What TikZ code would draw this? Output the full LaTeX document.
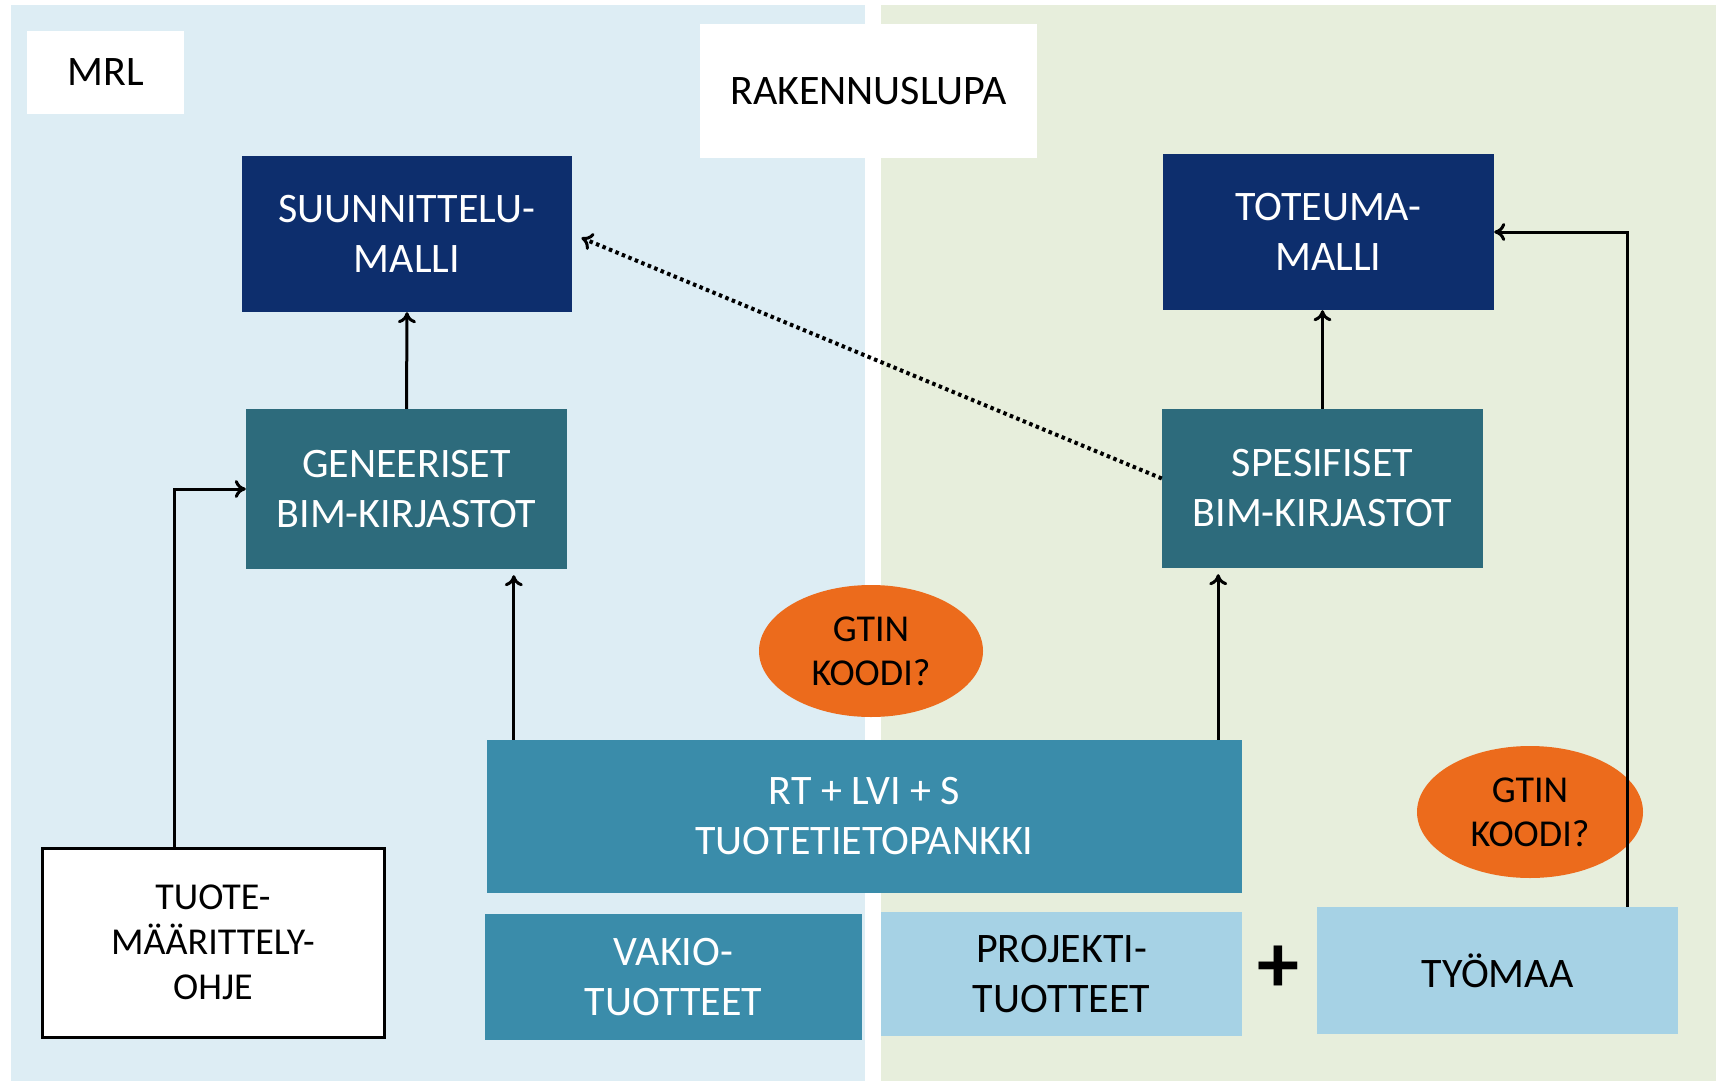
\documentclass[tikz,border=0pt]{standalone}
\usepackage{fontspec}
\setmainfont{Carlito}
\usetikzlibrary{arrows.meta,shapes.geometric,calc}
\definecolor{navybox}{HTML}{0D2E6D}
\definecolor{tealbox}{HTML}{2D6B7C}
\definecolor{midbox}{HTML}{3A8CAA}
\definecolor{lightbox}{HTML}{A6D2E5}
\definecolor{bgblue}{HTML}{DDEDF4}
\definecolor{bggreen}{HTML}{E7EEDC}
\definecolor{orangeov}{HTML}{EC6B1C}
\tikzset{
  base/.style={rectangle, inner sep=0pt, align=center, font=\fontsize{42}{50}\selectfont},
  whitelabel/.style={base, fill=white, text=black, font=\fontsize{42}{48}\selectfont},
  navy/.style={base, fill=navybox, text=white},
  tealb/.style={base, fill=tealbox, text=white},
  midb/.style={base, fill=midbox, text=white},
  lightb/.style={base, fill=lightbox, text=black},
  outlined/.style={base, fill=white, draw=black, line width=3pt, text=black, font=\fontsize{38}{45}\selectfont},
  gtin/.style={ellipse, fill=orangeov, inner sep=0pt, align=center, text=black, font=\fontsize{38}{44}\selectfont},
  conn/.style={draw=black, line width=3pt, -{To[length=11pt,width=18pt,line width=3pt]}},
  dotconn/.style={draw=black, line width=4pt, dash pattern=on 3.5pt off 3.5pt, -{To[length=11pt,width=18pt,line width=3pt]}}
}
\begin{document}
\begin{tikzpicture}[x=1pt,y=-1pt]
\useasboundingbox (0,0) rectangle (1716,1081);
\fill[bgblue] (11,5) rectangle (865,1081);
\fill[bggreen] (881,5) rectangle (1716,1081);

\node[whitelabel, minimum width=157pt, minimum height=83pt] (mrl) at (105.5,72.5) {MRL};
\node[whitelabel, minimum width=337pt, minimum height=134pt] (lupa) at (868.5,91) {RAKENNUSLUPA};

\node[navy, minimum width=330pt, minimum height=156pt] (suun) at (407,234) {SUUNNITTELU-\\MALLI};
\node[navy, minimum width=331pt, minimum height=156pt] (tot) at (1328.5,232) {TOTEUMA-\\MALLI};
\node[tealb, minimum width=321pt, minimum height=160pt] (gen) at (406.5,489) {GENEERISET\\BIM-KIRJASTOT};
\node[tealb, minimum width=321pt, minimum height=159pt] (spe) at (1322.5,488.5) {SPESIFISET\\BIM-KIRJASTOT};

\node[midb, minimum width=755pt, minimum height=153pt] (rt) at (864.5,816.5) {RT + LVI + S\\TUOTETIETOPANKKI};
\node[midb, minimum width=377pt, minimum height=126pt] (vak) at (673.5,977) {VAKIO-\\TUOTTEET};
\node[lightb, minimum width=361pt, minimum height=124pt] (proj) at (1061.5,974) {PROJEKTI-\\TUOTTEET};
\node[lightb, minimum width=361pt, minimum height=127pt] (tyo) at (1497.5,970.5) {TYÖMAA};
\node[base, text=black, font=\fontsize{84}{84}\selectfont\bfseries] (plus) at (1278,969) {+};

\node[outlined, minimum width=342pt, minimum height=189pt] (tuote) at (213,942.5) {TUOTE-\\MÄÄRITTELY-\\OHJE};

\node[gtin, minimum width=224pt, minimum height=132pt] (g1) at (871,651) {GTIN\\KOODI?};
\node[gtin, minimum width=226pt, minimum height=132pt] (g2) at (1530,812) {GTIN\\KOODI?};

\draw[conn] (gen.north) -- (suun.south);
\draw[conn] (spe.north) -- (spe.north |- tot.south);
\draw[conn, shorten >=6pt] ([xshift=27pt]rt.north west) -- ([xshift=27pt]rt.north west |- gen.south);
\draw[conn, shorten >=6pt] ([xshift=-24pt]rt.north east) -- ([xshift=-24pt]rt.north east |- spe.south);
\draw[conn] ([xshift=134pt]tuote.north west) |- (gen.west);
\draw[conn] ([xshift=-51pt]tyo.north east) |- (tot.east);
\draw[dotconn, shorten >=10pt] ([yshift=10pt]spe.west) -- (suun.east);
\end{tikzpicture}
\end{document}
